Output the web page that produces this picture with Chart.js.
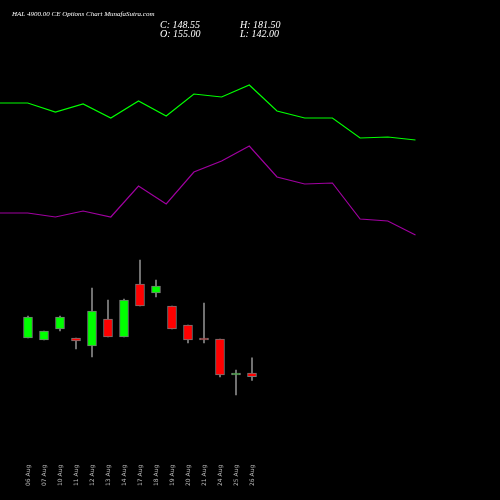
<!DOCTYPE html>
<html><head><style>html,body{margin:0;background:#000}#w{width:500px;height:500px}</style>
<script src="https://cdn.jsdelivr.net/npm/chart.js@4"></script></head>
<body><div id="w"><canvas id="c" width="500" height="500"></canvas></div>
<script>
const dates=["06 Aug","07 Aug","10 Aug","11 Aug","12 Aug","13 Aug","14 Aug","17 Aug","18 Aug","19 Aug","20 Aug","21 Aug","24 Aug","25 Aug","26 Aug"];
const opens=[216.3,212.8,232,216.3,202.3,249.5,218,310.8,295,272.3,239,216.3,214.5,151.5,155];
const closes=[253,228.5,253,211,263.5,218,282.8,272.3,307.3,232,212.8,212.8,151.5,155,148.55];
const highs=[254.8,228.5,254.8,216.3,303.8,282.8,284.5,352.8,317.8,272.3,239,277.5,214.5,160.3,181.5];
const lows=[216.3,212.8,228.5,197,183,218,218,272.3,288,232,207.5,207.5,148,116.5,142];
const greenLine=[397,397,388,396,382,399,384,406,403,415,389,382,382,362,363,360];
const purpleLine=[287,287,283,289,283,314,296,328,339,354,323,316,317,281,279,265];
const candleX=dates.map((d,i)=>28+16*i);
const lineX=greenLine.map((v,i)=>i*27.7);
const bodies=dates.map((d,i)=>({x:candleX[i],y:[opens[i],closes[i]]}));
const wicks=dates.map((d,i)=>({x:candleX[i],y:[lows[i],highs[i]]}));
const cols=dates.map((d,i)=>closes[i]>=opens[i]?'#00ff00':'#ff0000');
const labelsPlugin={id:'lbl',afterDraw(ch){const c=ch.ctx,xs=ch.scales.x;c.save();
c.fillStyle='#fff';c.font='italic 7px "Liberation Serif"';c.fillText('HAL 4900.00 CE Options Chart MunafaSutra.com',12,16);
c.font='italic 10px "Liberation Serif"';c.fillText('C: 148.55',160,28);c.fillText('O: 155.00',160,37);c.fillText('H: 181.50',240,28);c.fillText('L: 142.00',240,37);
c.fillStyle='#bbb';c.font='6px "DejaVu Sans"';
dates.forEach((d,i)=>{c.save();c.translate(xs.getPixelForValue(candleX[i])+2,486);c.rotate(-Math.PI/2);c.fillText(d,0,0);c.restore();});
c.restore();}};
new Chart(document.getElementById('c'),{
data:{datasets:[
{type:'bar',data:bodies,backgroundColor:cols,borderColor:'#777',borderWidth:1,borderSkipped:false,barThickness:9,grouped:false,yAxisID:'y',order:0},
{type:'bar',data:wicks,backgroundColor:'#888',barThickness:1,grouped:false,yAxisID:'y',order:1},
{type:'line',data:greenLine.map((v,i)=>({x:lineX[i],y:v})),borderColor:'#00ff00',borderWidth:1.2,pointRadius:0,yAxisID:'yl',tension:0,order:2},
{type:'line',data:purpleLine.map((v,i)=>({x:lineX[i],y:v})),borderColor:'#a000a0',borderWidth:1.2,pointRadius:0,yAxisID:'yl',tension:0,order:3}
]},
options:{responsive:false,animation:false,maintainAspectRatio:false,layout:{padding:0},
plugins:{legend:{display:false},tooltip:{enabled:false}},
scales:{x:{type:'linear',min:0,max:500,offset:false,display:false},
y:{min:-67.25,max:807.75,display:false},
yl:{min:0,max:500,display:false}}},
plugins:[labelsPlugin,{id:'bg',beforeDraw(ch){ch.ctx.fillStyle='#000';ch.ctx.fillRect(0,0,500,500);}}]
});
</script></body></html>
